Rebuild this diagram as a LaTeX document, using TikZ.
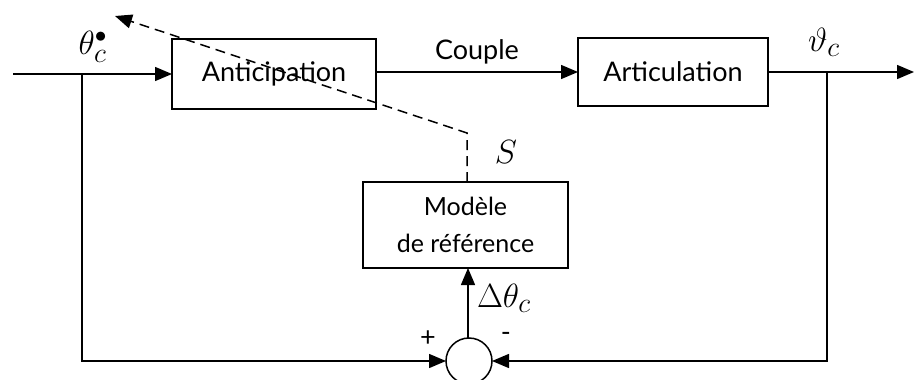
\documentclass[tikz,border=0pt]{standalone}
\usepackage{fontspec}
\setmainfont{Lato}
\usetikzlibrary{arrows.meta,calc}
\begin{document}
\begin{tikzpicture}[x=1pt,y=-1pt,line width=1.5pt,
  blk/.style={draw,rectangle,inner sep=0pt,outer sep=0pt,align=center,
    font=\fontsize{27}{37}\selectfont},
  sumj/.style={draw,circle,inner sep=0pt,outer sep=0pt,minimum size=46pt},
  tipp/.style={-{Triangle[length=17pt,width=14pt]}},
  txt/.style={font=\fontsize{27}{30}\selectfont},
  mth/.style={inner sep=0pt,scale=1.35,font=\fontsize{24.88}{30}\selectfont}]
\useasboundingbox (0,0) rectangle (914,380);

% blocks
\node[blk,minimum width=204pt,minimum height=70pt] (ant) at (274,74) {Anticipation};
\node[blk,minimum width=190pt,minimum height=68pt] (art) at (673,72) {Articulation};
\node[blk,minimum width=205pt,minimum height=86pt,
  font=\fontsize{25}{37}\selectfont] (mod) at (465.5,225) {Modèle\\de référence};
\node[sumj] (sum) at (469,361) {};

% signal points
\coordinate (in) at (13,74);
\coordinate (b1) at (82,74);
\coordinate (b2) at (827,72);
\coordinate (out) at (914,72);
\coordinate (bend) at (467,133);
\coordinate (sout) at (115,16);

% forward path
\draw[tipp] (in) -- (ant.west);
\draw[tipp] (ant.east |- art.west) -- node[txt,above=4pt] {Couple} (art.west);
\draw[tipp] (art.east) -- (out);

% feedback paths
\draw[tipp] (b1) -- (b1 |- sum.west) -- (sum.west);
\draw[tipp] (b2) -- (b2 |- sum.east) -- (sum.east);
\draw[tipp] (sum.north -| 468,0) -- (468,0 |- mod.south);

% adaptation signal
\draw[dashed,dash pattern=on 10pt off 6pt,tipp] (467,0 |- mod.north) -- (bend) -- (sout);

% labels
\node[mth] at (93,47) {$\theta_c^{\scriptscriptstyle\bullet}$};
\node[mth] at (824,42) {$\vartheta_c$};
\node[mth] at (506,152) {$S$};
\node[mth,anchor=west] at (476,298) {$\Delta\theta_c$};
\node[txt] at (428,339) {+};
\node[txt] at (506,337) {-};
\end{tikzpicture}
\end{document}
